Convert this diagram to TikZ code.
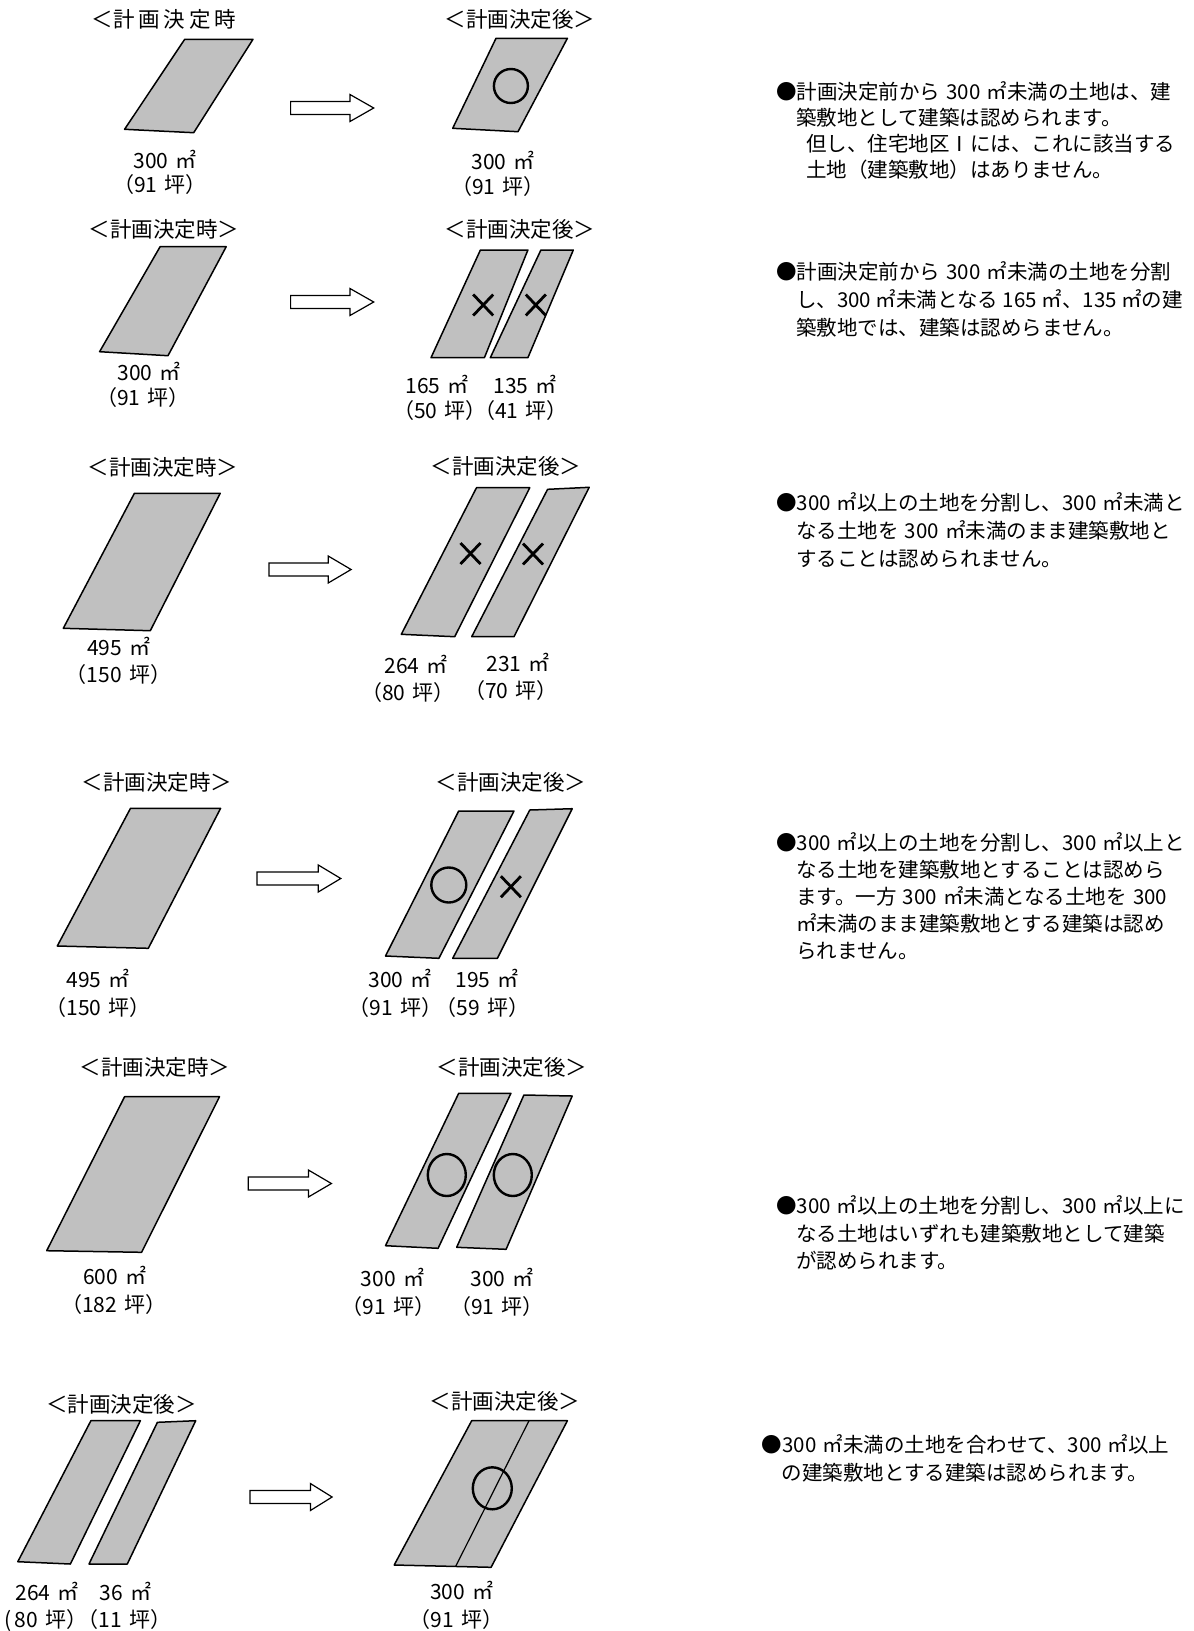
\documentclass[tikz,border=0pt]{standalone}
\usepackage{fontspec}
\setmainfont{Noto Sans CJK JP}
\definecolor{lotgray}{HTML}{C0C0C0}
\newcommand\hs{\hspace{0.34em}}
\newcommand\bs{\hspace{0.3em}}
\tikzset{
  lot/.style={draw=black, fill=lotgray, line width=1.5pt, line join=round},
  okmark/.style={draw=black, line width=2.4pt},
  ngmark/.style={draw=black, line width=2.8pt},
  barrow/.style={draw=black, fill=white, line width=1.2pt, line join=miter},
  ttl/.style={font=\fontsize{21.5pt}{25pt}\selectfont, inner sep=0pt, text height=18pt, text depth=3pt},
  lbl/.style={font=\fontsize{21pt}{25pt}\selectfont, inner sep=0pt, text height=18pt, text depth=3pt},
  body/.style={font=\fontsize{20.5pt}{27pt}\selectfont, inner sep=0pt, anchor=west, text height=18pt, text depth=3pt},
}
% block arrow: x0, x1 (head start), xtip, y
\newcommand\blkarrow[4]{%
  \draw[barrow] (#1,#4-6.5) -- (#2,#4-6.5) -- (#2,#4-13.5) -- (#3,#4)
    -- (#2,#4+13.5) -- (#2,#4+6.5) -- (#1,#4+6.5) -- cycle;}
% X mark: x, y
\newcommand\ngx[2]{%
  \draw[ngmark] (#1-10,#2-10.5) -- (#1+10,#2+10.5);
  \draw[ngmark] (#1-10,#2+10.5) -- (#1+10,#2-10.5);}
\begin{document}
\begin{tikzpicture}[x=1pt,y=-1pt]
\useasboundingbox (0,0) rectangle (1194,1631);
\fill[white] (0,0) rectangle (1194,1631);

%================ Row 1
\node[ttl] (t1l) at (164,20) {＜計\hspace{4pt}画\hspace{4pt}決\hspace{4pt}定\hspace{4pt}時};
\node[ttl] (t1r) at (520,20) {＜計画決定後＞};
\draw[lot] (184.7,39.3) -- (253,39.3) -- (193.7,132.7) -- (124.6,129.3) -- cycle;
\blkarrow{290.6}{350}{373.7}{108}
\draw[lot] (496,38.3) -- (567.4,38.3) -- (518,131.7) -- (452.7,128.3) -- cycle;
\draw[okmark] (510.9,86) circle (17);
\node[lbl] (a1l) at (165,161) {300\hs ㎡};
\node[lbl] (p1l) at (160,185) {（91\hs 坪）};
\node[lbl] (a1r) at (503,162) {300\hs ㎡};
\node[lbl] (p1r) at (498,187) {（91\hs 坪）};

%================ Row 2
\node[ttl] (t2l) at (164,230) {＜計画決定時＞};
\node[ttl] (t2r) at (520,230) {＜計画決定後＞};
\draw[lot] (160.1,246.7) -- (226.2,246.7) -- (168,355.7) -- (99.6,351.7) -- cycle;
\blkarrow{290.6}{350}{373.7}{302}
\draw[lot] (480.4,250) -- (527.9,250) -- (484.4,357.7) -- (431,357.7) -- cycle;
\draw[lot] (540.9,250) -- (573.3,250) -- (527.9,357.7) -- (490.3,357.7) -- cycle;
\ngx{483.2}{305}
\ngx{535.8}{305}
\node[lbl] (a2l) at (149,373) {300\hs ㎡};
\node[lbl] (p2l) at (143,398) {（91\hs 坪）};
\node[lbl] (a2r1) at (437,386) {165\hs ㎡};
\node[lbl] (a2r2) at (525,386) {135\hs ㎡};
\node[lbl] (p2r1) at (440,411) {（50\hs 坪）};
\node[lbl] (p2r2) at (521,411) {（41\hs 坪）};

%================ Row 3
\node[ttl] (t3l) at (163,468) {＜計画決定時＞};
\node[ttl] (t3r) at (506,467) {＜計画決定後＞};
\draw[lot] (134.4,493.3) -- (220.2,493.3) -- (150.3,630.7) -- (63.3,628.3) -- cycle;
\blkarrow{268.9}{328.2}{351.1}{569.5}
\draw[lot] (476.5,487.7) -- (529.8,487.7) -- (454.7,636.7) -- (401.3,634.3) -- cycle;
\draw[lot] (547.6,489.3) -- (589.2,487.3) -- (514,636.7) -- (471.7,636.7) -- cycle;
\ngx{470.5}{553.5}
\ngx{533}{554}
\node[lbl] (a3l) at (118.6,648) {495\hs ㎡};
\node[lbl] (p3l) at (118.5,675) {（150\hs 坪）};
\node[lbl] (a3r1) at (416,666) {264\hs ㎡};
\node[lbl] (a3r2) at (518,664) {231\hs ㎡};
\node[lbl] (p3r1) at (408,693) {（80\hs 坪）};
\node[lbl] (p3r2) at (511,691) {（70\hs 坪）};

%================ Row 4
\node[ttl] (t4l) at (157,783) {＜計画決定時＞};
\node[ttl] (t4r) at (511,783) {＜計画決定後＞};
\draw[lot] (130.5,808.3) -- (220.6,808.3) -- (148.3,948.3) -- (57.3,946) -- cycle;
\blkarrow{257}{318.3}{340.8}{878.5}
\draw[lot] (458.7,811) -- (514,811) -- (438.9,958.3) -- (385.5,956) -- cycle;
\draw[lot] (529.8,810) -- (572.2,808.7) -- (497.4,958.3) -- (452.7,958.3) -- cycle;
\draw[okmark] (448.8,885) circle (17.5);
\ngx{510.9}{886.7}
\node[lbl] (a4l) at (98,980) {495\hs ㎡};
\node[lbl] (p4l) at (98,1008) {（150\hs 坪）};
\node[lbl] (a4r1) at (400,980) {300\hs ㎡};
\node[lbl] (a4r2) at (487,980) {195\hs ㎡};
\node[lbl] (p4r1) at (395.4,1008) {（91\hs 坪）};
\node[lbl] (p4r2) at (482.4,1008) {（59\hs 坪）};

%================ Row 5
\node[ttl] (t5l) at (155,1068) {＜計画決定時＞};
\node[ttl] (t5r) at (512,1068) {＜計画決定後＞};
\draw[lot] (124.6,1096.7) -- (219.5,1096.7) -- (141.6,1252.3) -- (46.7,1250.7) -- cycle;
\blkarrow{248.3}{308.4}{331.4}{1183.5}
\draw[lot] (458.7,1093.3) -- (510.9,1093.3) -- (438.1,1248.3) -- (385.5,1245.7) -- cycle;
\draw[lot] (523.9,1095) -- (572.2,1096) -- (506.1,1249.3) -- (456.7,1247.3) -- cycle;
\draw[okmark] (446.8,1175) ellipse (19 and 21);
\draw[okmark] (512.8,1175) ellipse (19 and 21);
\node[lbl] (a5l) at (114.7,1277) {600\hs ㎡};
\node[lbl] (p5l) at (113.7,1305) {（182\hs 坪）};
\node[lbl] (a5r1) at (392.5,1279) {300\hs ㎡};
\node[lbl] (a5r2) at (502,1279) {300\hs ㎡};
\node[lbl] (p5r1) at (388.5,1307) {（91\hs 坪）};
\node[lbl] (p5r2) at (497,1307) {（91\hs 坪）};

%================ Row 6
\node[ttl] (t6l) at (121.5,1405) {＜計画決定後＞};
\node[ttl] (t6r) at (505,1402) {＜計画決定後＞};
\draw[lot] (90.9,1420.7) -- (140.4,1420.7) -- (70.4,1564) -- (17.8,1561.7) -- cycle;
\draw[lot] (157.4,1422.3) -- (195.7,1420.7) -- (127.3,1564) -- (89,1564) -- cycle;
\blkarrow{249.9}{310.4}{332.1}{1497}
\draw[lot] (471.7,1420.7) -- (567.4,1420.7) -- (491.1,1567.3) -- (394.2,1565) -- cycle;
\draw[line width=1.2pt] (529,1420.7) -- (455.5,1566.7);
\draw[okmark] (492.3,1488.3) ellipse (19.5 and 21);
\node[lbl] (a6l1) at (47,1593) {264\hs ㎡};
\node[lbl] (a6l2) at (125.5,1593) {36\hs ㎡};
\node[lbl] (p6l1) at (46,1620) {(\hspace{0.12em}80\hs 坪）};
\node[lbl] (p6l2) at (124.5,1620) {（11\hs 坪）};
\node[lbl] (a6r) at (461.6,1592) {300\hs ㎡};
\node[lbl] (p6r) at (456.6,1620) {（91\hs 坪）};

%================ Right-hand notes
\node[body] (b1a) at (776,91.5) {●計画決定前から\bs 300\bs ㎡未満の土地は、建};
\node[body] (b1b) at (796,117.5) {築敷地として建築は認められます。};
\node[body] (b1c) at (806,143.5) {但し、住宅地区Ⅰには、これに該当する};
\node[body] (b1d) at (806,169.5) {土地（建築敷地）はありません。};

\node[body] (b2a) at (776,272) {●計画決定前から\bs 300\bs ㎡未満の土地を分割};
\node[body] (b2b) at (796,300) {し、300 ㎡未満となる 165 ㎡、135 ㎡の建};
\node[body] (b2c) at (796,328) {築敷地では、建築は認めらません。};

\node[body] (b3a) at (776,503.3) {●300\bs ㎡以上の土地を分割し、300\bs ㎡未満と};
\node[body] (b3b) at (796,531) {なる土地を\bs 300\bs ㎡未満のまま建築敷地と};
\node[body] (b3c) at (796,558.5) {することは認められません。};

\node[body] (b4a) at (776,843) {●300\bs ㎡以上の土地を分割し、300\bs ㎡以上と};
\node[body] (b4b) at (796,870) {なる土地を建築敷地とすることは認めら};
\node[body] (b4c) at (796,897) {ます。一方\bs 300\bs ㎡未満となる土地を\bs 300};
\node[body] (b4d) at (796,924) {㎡未満のまま建築敷地とする建築は認め};
\node[body] (b4e) at (796,951) {られません。};

\node[body] (b5a) at (776,1206) {●300\bs ㎡以上の土地を分割し、300\bs ㎡以上に};
\node[body] (b5b) at (796,1233.5) {なる土地はいずれも建築敷地として建築};
\node[body] (b5c) at (796,1261) {が認められます。};

\node[body] (b6a) at (761.7,1445) {●300\bs ㎡未満の土地を合わせて、300\bs ㎡以上};
\node[body] (b6b) at (781.7,1473) {の建築敷地とする建築は認められます。};
\end{tikzpicture}
\end{document}
